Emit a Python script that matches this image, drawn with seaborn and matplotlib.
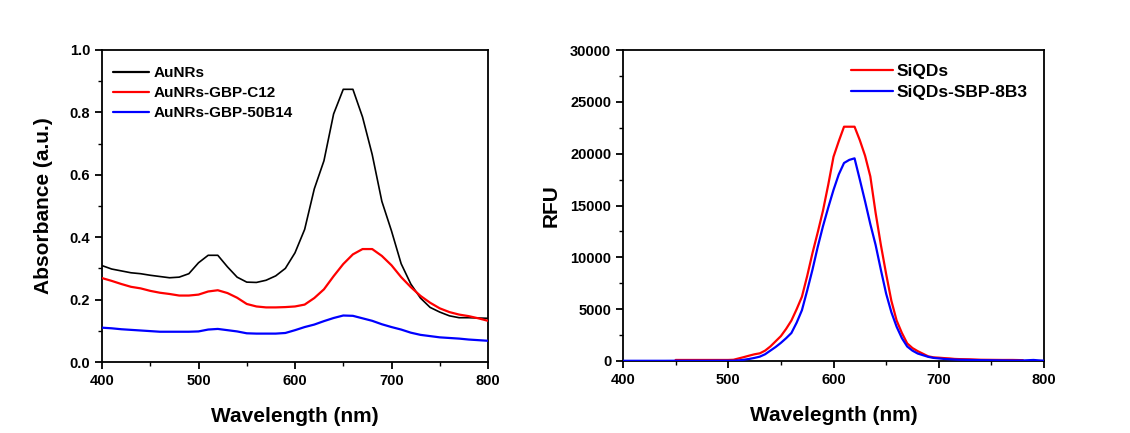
import numpy as np
import pandas as pd
import matplotlib
matplotlib.use("Agg")
import matplotlib.pyplot as plt
from matplotlib.ticker import MultipleLocator, FormatStrFormatter
import seaborn as sns

# ---------------- data: left panel (UV-Vis absorbance) ----------------
wl_abs = list(range(400, 801, 10))
aunrs = [0.309, 0.298, 0.292, 0.286, 0.283, 0.278, 0.274, 0.270, 0.272, 0.283,
         0.318, 0.342, 0.342, 0.305, 0.272, 0.256, 0.255, 0.262, 0.276, 0.300,
         0.350, 0.425, 0.555, 0.645, 0.795, 0.874, 0.874, 0.785, 0.665, 0.515,
         0.420, 0.315, 0.250, 0.205, 0.175, 0.160, 0.148, 0.142, 0.142, 0.141,
         0.140]
aunrs_c12 = [0.269, 0.260, 0.250, 0.241, 0.236, 0.228, 0.222, 0.218, 0.213, 0.213,
             0.216, 0.226, 0.230, 0.221, 0.206, 0.186, 0.178, 0.175, 0.175, 0.176,
             0.178, 0.184, 0.205, 0.233, 0.275, 0.314, 0.345, 0.362, 0.362, 0.340,
             0.310, 0.272, 0.240, 0.212, 0.190, 0.172, 0.160, 0.152, 0.147, 0.140,
             0.132]
aunrs_50b14 = [0.110, 0.108, 0.105, 0.103, 0.101, 0.099, 0.097, 0.097, 0.097, 0.097,
               0.098, 0.104, 0.106, 0.102, 0.098, 0.092, 0.091, 0.091, 0.091, 0.093,
               0.102, 0.112, 0.120, 0.131, 0.141, 0.149, 0.148, 0.140, 0.132, 0.121,
               0.112, 0.104, 0.094, 0.087, 0.083, 0.079, 0.077, 0.075, 0.072, 0.070,
               0.068]
abs_labels = ["AuNRs", "AuNRs-GBP-C12", "AuNRs-GBP-50B14"]
abs_colors = ["#000000", "#ff0000", "#0000ff"]

# ---------------- data: right panel (fluorescence) ----------------
wl_siqds = [450, 455, 460, 465, 470, 475, 480, 485, 490, 495, 500, 505, 510, 515,
            520, 525, 530, 535, 540, 545, 550, 555, 560, 565, 570, 575, 580, 585,
            590, 595, 600, 605, 610, 615, 620, 625, 630, 635, 640, 645, 650, 655,
            660, 665, 670, 675, 680, 685, 690, 695, 700, 705, 710, 715, 720, 725,
            730, 740, 750, 760, 770, 780]
siqds = [100, 100, 100, 100, 100, 100, 100, 100, 100, 100, 100, 120, 250, 380,
         520, 650, 740, 1000, 1400, 1900, 2400, 3100, 3900, 5000, 6200, 8200, 10400, 12400,
         14500, 17000, 19700, 21200, 22600, 22600, 22600, 21300, 19800, 17800, 14300, 11200, 8400, 5800,
         3900, 2700, 1700, 1250, 950, 700, 450, 350, 320, 280, 250, 200, 180, 170,
         160, 120, 110, 100, 100, 80]
wl_sbp = [400, 410, 420, 430, 440, 450, 460, 470, 480, 490, 500, 505, 510, 515,
          520, 525, 530, 535, 540, 545, 550, 555, 560, 565, 570, 575, 580, 585,
          590, 595, 600, 605, 610, 615, 620, 625, 630, 635, 640, 645, 650, 655,
          660, 665, 670, 675, 680, 685, 690, 695, 700, 705, 710, 715, 720, 730,
          740, 750, 760, 770, 780, 790, 795, 800]
siqds_sbp = [20, 20, 20, 20, 20, 25, 25, 25, 25, 30, 30, 30, 60, 120,
             200, 300, 420, 650, 1000, 1350, 1750, 2200, 2700, 3700, 4900, 6800, 8800, 11000,
             13000, 14800, 16500, 18000, 19100, 19400, 19550, 17500, 15400, 13200, 11200, 8800, 6500, 4700,
             3300, 2200, 1400, 1000, 720, 560, 400, 300, 250, 200, 170, 140, 120, 100,
             80, 70, 60, 50, 50, 100, 60, 30]
fl_labels = ["SiQDs", "SiQDs-SBP-8B3"]
fl_colors = ["#ff0000", "#0000ff"]

# ---------------- frames ----------------
df_abs = pd.concat([
    pd.DataFrame({"wl": wl_abs, "val": aunrs, "sample": abs_labels[0]}),
    pd.DataFrame({"wl": wl_abs, "val": aunrs_c12, "sample": abs_labels[1]}),
    pd.DataFrame({"wl": wl_abs, "val": aunrs_50b14, "sample": abs_labels[2]}),
], ignore_index=True)
df_fl = pd.concat([
    pd.DataFrame({"wl": wl_siqds, "val": siqds, "sample": fl_labels[0]}),
    pd.DataFrame({"wl": wl_sbp, "val": siqds_sbp, "sample": fl_labels[1]}),
], ignore_index=True)

sns.set_style("ticks")
plt.rcParams["font.family"] = ["Liberation Sans", "DejaVu Sans"]
plt.rcParams["font.weight"] = "bold"
plt.rcParams["text.color"] = "black"
plt.rcParams["axes.labelcolor"] = "black"
plt.rcParams["xtick.color"] = "black"
plt.rcParams["ytick.color"] = "black"

fig = plt.figure(figsize=(11.3, 4.33), dpi=100)
ax1 = fig.add_axes([102 / 1130, 1 - 362 / 433, 386 / 1130, 312 / 433])
ax2 = fig.add_axes([623 / 1130, 1 - 361 / 433, 421 / 1130, 311 / 433])

sns.lineplot(data=df_abs, x="wl", y="val", hue="sample", hue_order=abs_labels,
             palette=abs_colors, ax=ax1, sort=False, estimator=None, zorder=3)
for ln, w in zip(ax1.get_lines(), [1.2, 1.6, 1.6]):
    ln.set_linewidth(w)
sns.lineplot(data=df_fl, x="wl", y="val", hue="sample", hue_order=fl_labels,
             palette=fl_colors, ax=ax2, sort=False, estimator=None, zorder=3)
for ln in ax2.get_lines():
    ln.set_linewidth(1.6)

tick_fs = 10.5
for ax in (ax1, ax2):
    ax.set_xlim(400, 800)
    ax.xaxis.set_major_locator(MultipleLocator(100))
    ax.xaxis.set_minor_locator(MultipleLocator(50))
    for s in ax.spines.values():
        s.set_visible(True)
        s.set_linewidth(1.3)
        s.set_color("black")
    ax.tick_params(which="major", direction="out", length=5, width=1.3,
                   labelsize=tick_fs, colors="black", labelcolor="black",
                   top=False, right=False)
    ax.tick_params(which="minor", direction="out", length=3, width=1.0,
                   colors="black", top=False, right=False)

ax1.set_ylim(0, 1.0)
ax1.yaxis.set_major_locator(MultipleLocator(0.2))
ax1.yaxis.set_minor_locator(MultipleLocator(0.1))
ax1.yaxis.set_major_formatter(FormatStrFormatter("%.1f"))
ax1.set_xlabel("Wavelength (nm)", fontsize=15, fontweight="bold", labelpad=14, color="black")
ax1.set_ylabel("Absorbance (a.u.)", fontsize=15, fontweight="bold", labelpad=12, color="black")

ax2.set_ylim(0, 30000)
ax2.yaxis.set_major_locator(MultipleLocator(5000))
ax2.yaxis.set_minor_locator(MultipleLocator(2500))
ax2.set_xlabel("Wavelegnth (nm)", fontsize=15, fontweight="bold", labelpad=14, color="black")
ax2.set_ylabel("RFU", fontsize=15, fontweight="bold", labelpad=7, color="black")

for ax in (ax1, ax2):
    for lab in ax.get_xticklabels() + ax.get_yticklabels():
        lab.set_fontweight("bold")
        lab.set_color("black")

h, l = ax1.get_legend_handles_labels()
ax1.legend(h, l, bbox_to_anchor=(0.028, 0.949), frameon=False, loc="upper left",
           borderpad=0, borderaxespad=0, handlelength=2.4, handletextpad=0.25,
           labelspacing=0.4, prop={"size": 11, "weight": "bold"}, labelcolor="black")
h, l = ax2.get_legend_handles_labels()
ax2.legend(h, l, bbox_to_anchor=(0.5416, 0.955), frameon=False, loc="upper left",
           borderpad=0, borderaxespad=0, handlelength=2.4, handletextpad=0.2,
           labelspacing=0.35, prop={"size": 12.5, "weight": "bold"}, labelcolor="black")
for ax in (ax1, ax2):
    for ln in ax.get_legend().get_lines():
        ln.set_linewidth(1.6)

fig.savefig("out.png", dpi=100)
